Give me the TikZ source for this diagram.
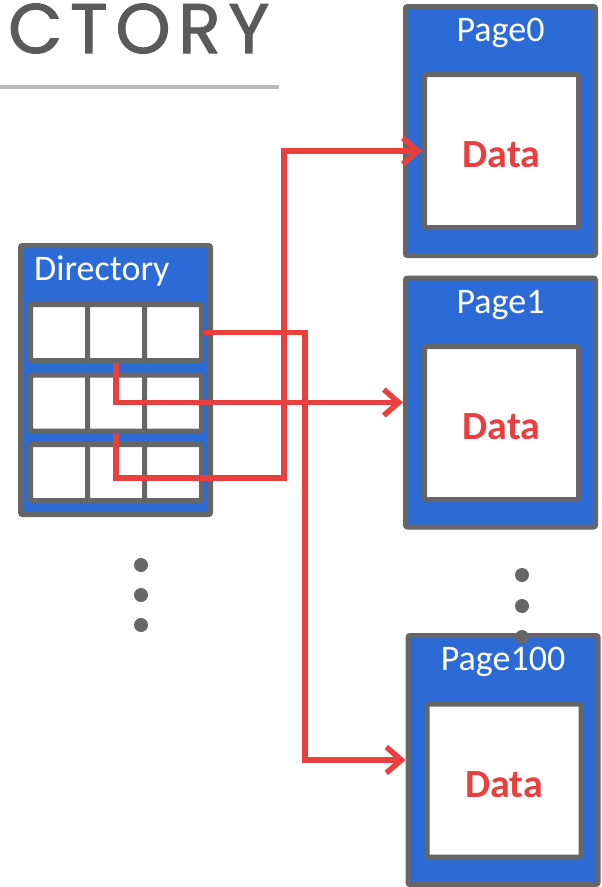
\documentclass[tikz,border=0pt]{standalone}
\usepackage{fontspec}
\setmainfont{Carlito}
\newfontfamily\titlefont[LetterSpace=11,FakeBold=1.6]{Poppins}
\usepackage{xcolor}
\definecolor{pageblue}{HTML}{2C6AD6}
\definecolor{frame}{HTML}{666666}
\definecolor{ptr}{HTML}{E8403F}
\definecolor{ink}{HTML}{5A5A5A}
\definecolor{rulegray}{HTML}{BBBBBB}
\usepackage{tikz}
\usetikzlibrary{arrows.meta,positioning,calc}
\tikzset{
  >=Stealth,
  dirbox/.style={draw=frame,line width=5pt,rounded corners=2pt,fill=pageblue,
                 minimum width=190pt,minimum height=269pt,inner sep=0pt},
  page/.style={draw=frame,line width=5pt,rounded corners=2pt,fill=pageblue,
               minimum width=190pt,minimum height=249pt,inner sep=0pt},
  databox/.style={draw=frame,line width=5pt,rounded corners=2pt,fill=white,
                  minimum width=154pt,minimum height=153pt,inner sep=0pt,text height=34pt,
                  font=\bfseries\fontsize{40}{44}\selectfont,text=ptr},
  cell/.style={draw=frame,line width=5pt,rounded corners=1.5pt,fill=white,
               minimum width=57pt,minimum height=56pt,inner sep=0pt},
  plabel/.style={font=\fontsize{36}{40}\selectfont,text=white,inner sep=0pt,anchor=base},
  dotn/.style={circle,fill=frame,minimum size=14pt,inner sep=0pt},
  ref/.style={-{Straight Barb[length=15pt,width=26pt]},line width=5.5pt,draw=ptr},
  ttl/.style={font=\titlefont\fontsize{70}{80}\selectfont,text=ink,inner sep=0pt,anchor=base west},
}

\begin{document}
\begin{tikzpicture}[x=1pt,y=-1pt]
  \useasboundingbox (0,0) rectangle (602,887);
  % heading
  \node[ttl] (title) at (8,53) {CTORY};
  \draw[rulegray,line width=4pt] (0,87) -- (279,87);
  % directory
  \node[dirbox] (dir) at (115.5,380) {};
  \node[plabel,anchor=base west] (dirl) at (34,280) {Directory};
  \foreach \r/\y in {1/332.5,2/403,3/472.5}
    \foreach \c/\x in {1/59,2/116,3/173}
      \node[cell] (c\r\c) at (\x,\y) {};
  % pages
  \node[page] (p0) at (500.5,131) {};
  \node[databox] (d0) at (501.5,151) {Data};
  \node[plabel] (l0) at (500.5,41) {Page0};
  \node[page] (p1) at (500.5,402.5) {};
  \node[databox] (d1) at (501.5,423) {Data};
  \node[plabel] (l1) at (500.5,313) {Page1};
  \node[page] (p100) at (503,760) {};
  \node[databox] (d100) at (504,780.5) {Data};
  \node[plabel] (l100) at (503,670) {Page100};
  % more
  \foreach \i/\y in {1/565,2/595,3/625}
    \node[dotn] (ld\i) at (141,\y) {};
  \foreach \i/\y in {1/575,2/606,3/637}
    \node[dotn] (rd\i) at (522,\y) {};
  % pointers
  \coordinate (k1) at (305,760);
  \coordinate (k3) at (284,478);
  \draw[ref] (c13.east) -| (k1) -- (p100.west);
  \draw[ref] (c12.south) |- (p1.west);
  \draw[ref] (c22.south) |- (k3) |- (d0.west);
\end{tikzpicture}
\end{document}
